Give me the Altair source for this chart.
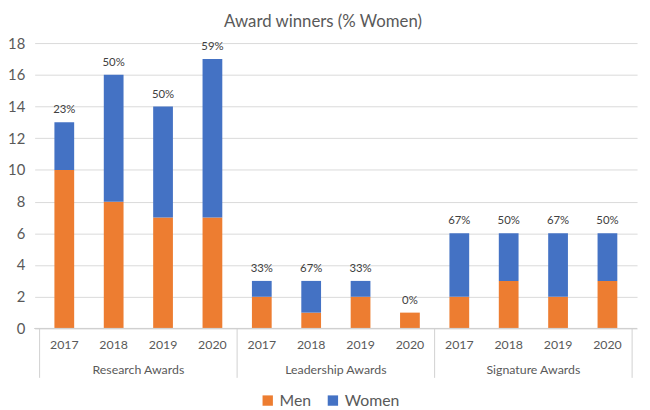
import altair as alt
import pandas as pd

groups = ["Research Awards", "Leadership Awards", "Signature Awards"]
years = ["2017", "2018", "2019", "2020"]
men = [10, 8, 7, 7, 2, 1, 2, 1, 2, 3, 2, 3]
women = [3, 8, 7, 10, 1, 2, 1, 0, 4, 3, 4, 3]
pct_labels = ["23%", "50%", "50%", "59%", "33%", "67%", "33%", "0%", "67%", "50%", "67%", "50%"]
y_ticks = [0, 2, 4, 6, 8, 10, 12, 14, 16, 18]

rows = []
for i in range(12):
    g = groups[i // 4]
    y = years[i % 4]
    rows.append({"idx": i, "group": g, "year": y, "gender": "Men", "count": men[i], "ord": 0})
    rows.append({"idx": i, "group": g, "year": y, "gender": "Women", "count": women[i], "ord": 1})
df = pd.DataFrame(rows)

tot = pd.DataFrame({"idx": list(range(12)),
                    "total": [m + w for m, w in zip(men, women)],
                    "label": pct_labels,
                    "year": [years[i % 4] for i in range(12)]})
grp = pd.DataFrame({"pos": [1.5, 5.5, 9.5], "group": groups})
sep = pd.DataFrame({"pos": [-0.5, 3.5, 7.5, 11.5]})

FONT = "Lato"
GRAY = "#595959"
H = 289
xscale = alt.Scale(domain=[-0.5, 11.5], nice=False, zero=False)
yscale = alt.Scale(domain=[0, 18], nice=False)
yaxis = alt.Axis(values=y_ticks, title=None, domain=False, ticks=False,
                 grid=True, gridColor="#d9d9d9", labelColor=GRAY, labelFontSize=15,
                 labelPadding=10, labelFont=FONT, labelOverlap=False)

bars = alt.Chart(df).mark_bar(size=20).encode(
    x=alt.X("idx:Q", scale=xscale, axis=None),
    y=alt.Y("count:Q", stack="zero", scale=yscale, axis=yaxis),
    color=alt.Color("gender:N",
                    scale=alt.Scale(domain=["Men", "Women"], range=["#ED7D31", "#4472C4"]),
                    legend=alt.Legend(title=None, orient="none", legendX=228, legendY=354,
                                      direction="horizontal", symbolType="square", symbolSize=110,
                                      labelFontSize=16, labelColor=GRAY, labelFont=FONT,
                                      columnPadding=14, symbolStrokeWidth=0)),
    order=alt.Order("ord:Q"),
)

pct = alt.Chart(tot).mark_text(baseline="bottom", dy=-7, fontSize=11.5, color="#404040", font=FONT).encode(
    x=alt.X("idx:Q", scale=xscale, axis=None),
    y=alt.Y("total:Q", scale=yscale, axis=yaxis),
    text="label:N",
)

yr = alt.Chart(tot).mark_text(baseline="middle", fontSize=12.5, color=GRAY, font=FONT).encode(
    x=alt.X("idx:Q", scale=xscale, axis=None),
    y=alt.value(H + 17),
    text="year:N",
)

gl = alt.Chart(grp).mark_text(baseline="middle", fontSize=12.5, color=GRAY, font=FONT).encode(
    x=alt.X("pos:Q", scale=xscale, axis=None),
    y=alt.value(H + 42),
    text="group:N",
)

seps = alt.Chart(sep).mark_rule(color="#d0d0d0", strokeWidth=1).encode(
    x=alt.X("pos:Q", scale=xscale, axis=None),
    y=alt.value(H),
    y2=alt.value(H + 50),
)

base = alt.Chart(sep).mark_rule(color="#d0d0d0", strokeWidth=1).encode(
    x=alt.value(0), x2=alt.value(610), y=alt.value(H),
)

chart = alt.layer(bars, seps, base, pct, yr, gl).properties(
    width=610, height=H,
    title=alt.TitleParams("Award winners (% Women)", fontSize=17, font=FONT, color=GRAY,
                          fontWeight="normal", anchor="middle", dx=-13, offset=5),
    autosize=alt.AutoSizeParams(type="none"),
    padding={"left": 27, "top": 33, "right": 5, "bottom": 78},
).configure_view(stroke=None)

chart.save("out.html", embed_options={"renderer": "svg", "actions": False})
